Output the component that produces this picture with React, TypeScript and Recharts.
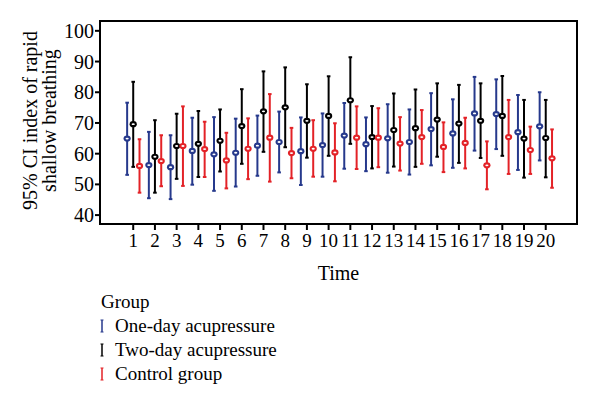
import React from 'react'
import {
  ScatterChart,
  Scatter,
  XAxis,
  YAxis,
  ErrorBar,
  ReferenceArea,
} from 'recharts'

const times = [1, 2, 3, 4, 5, 6, 7, 8, 9, 10, 11, 12, 13, 14, 15, 16, 17, 18, 19, 20]
const yTicks = [40, 50, 60, 70, 80, 90, 100]

// one-day acupressure
const oneDayMean = [64.9, 56.3, 55.6, 60.9, 59.8, 60.3, 62.6, 63.8, 60.8, 62.8, 65.9, 63.1, 65.0, 63.8, 68.0, 66.6, 73.1, 72.9, 67.0, 68.9]
const oneDayLow = [53.1, 45.5, 45.2, 49.9, 47.9, 49.3, 52.8, 53.9, 49.8, 52.5, 55.1, 54.3, 53.8, 53.2, 56.2, 55.4, 61.0, 61.5, 54.7, 57.8]
const oneDayHigh = [76.6, 67.1, 66.0, 71.7, 71.9, 71.4, 72.4, 73.7, 71.8, 73.1, 76.5, 71.8, 76.1, 74.4, 79.7, 77.7, 85.0, 84.2, 79.1, 80.0]

// two-day acupressure
const twoDayMean = [69.6, 59.0, 62.5, 63.2, 64.2, 69.0, 73.8, 75.1, 70.7, 72.3, 77.4, 65.4, 67.7, 68.3, 71.1, 69.8, 70.7, 72.3, 64.9, 65.1]
const twoDayLow = [55.7, 47.3, 51.8, 52.4, 54.2, 56.7, 60.6, 62.1, 58.7, 59.3, 63.2, 55.2, 55.8, 55.7, 59.0, 57.0, 58.6, 59.3, 52.2, 52.3]
const twoDayHigh = [83.4, 70.9, 73.0, 73.9, 74.4, 81.0, 86.8, 88.1, 82.6, 85.2, 91.4, 75.5, 79.6, 80.9, 82.9, 82.4, 82.9, 85.3, 77.5, 77.5]

// control group
const controlMean = [56.0, 57.6, 62.5, 61.5, 57.8, 61.6, 65.2, 60.2, 61.6, 60.4, 65.2, 65.2, 63.3, 65.4, 62.2, 63.5, 56.2, 65.4, 61.2, 58.5]
const controlLow = [47.3, 49.4, 49.5, 52.4, 48.7, 51.7, 50.9, 52.0, 52.5, 51.0, 55.0, 55.6, 54.5, 56.7, 54.0, 55.2, 48.4, 53.4, 53.4, 48.9]
const controlHigh = [64.7, 66.0, 75.4, 70.4, 66.8, 71.5, 79.4, 68.4, 70.9, 69.9, 75.4, 74.8, 71.9, 74.2, 70.2, 71.7, 64.0, 77.5, 68.8, 67.9]

const BLUE = '#26398c'
const BLACK = '#000000'
const RED = '#e32227'
const FONT = '"Liberation Serif", "DejaVu Serif", serif'

const X_DOMAIN = [-0.53, 21.44]
const Y_DOMAIN = [37.1, 103.2]

function build(mean: number[], low: number[], high: number[], shift: number) {
  return times.map((t, i) => ({
    x: t + shift,
    y: mean[i],
    err: [mean[i] - low[i], high[i] - mean[i]],
  }))
}

const groups = [
  { name: 'One-day acupressure', color: BLUE, data: build(oneDayMean, oneDayLow, oneDayHigh, -0.28) },
  { name: 'Two-day acupressure', color: BLACK, data: build(twoDayMean, twoDayLow, twoDayHigh, 0) },
  { name: 'Control group', color: RED, data: build(controlMean, controlLow, controlHigh, 0.29) },
]

function marker(color: string) {
  return (props: any) => {
    const { cx, cy } = props
    if (cx == null || cy == null) return null
    return (
      <g>
        <ellipse cx={cx} cy={cy} rx={3.6} ry={3.1} fill={color} />
        <ellipse cx={cx} cy={cy} rx={1.6} ry={0.9} fill="#fff" />
      </g>
    )
  }
}

function YLabel(props: any) {
  const { viewBox } = props
  const cy = viewBox.y + viewBox.height / 2 - 2
  return (
    <text
      transform={`translate(0, ${cy}) rotate(-90)`}
      textAnchor="middle"
      fontFamily={FONT}
      fontSize={20}
      fill="#000"
    >
      <tspan x={0} y={37}>95% CI index of rapid</tspan>
      <tspan x={0} y={56}>shallow breathing</tspan>
    </text>
  )
}

function GroupLegend() {
  return (
    <div
      style={{
        position: 'absolute',
        left: 99,
        top: 290,
        fontFamily: FONT,
        fontSize: 19,
        color: '#000',
        lineHeight: '24px',
      }}
    >
      <div style={{ marginLeft: 2 }}>Group</div>
      {groups.map((g) => (
        <div key={g.name} style={{ display: 'flex', alignItems: 'center' }}>
          <svg width={15} height={16} style={{ marginRight: 1 }}>
            <line x1={3} y1={2} x2={3} y2={14} stroke={g.color} strokeWidth={1.5} />
            <line x1={1.5} y1={2} x2={4.5} y2={2} stroke={g.color} strokeWidth={1} />
            <line x1={1.5} y1={14} x2={4.5} y2={14} stroke={g.color} strokeWidth={1} />
          </svg>
          <span>{g.name}</span>
        </div>
      ))}
    </div>
  )
}

export default function App() {
  return (
    <div style={{ position: 'absolute', left: 0, top: 0, width: 600, height: 405, background: '#fff' }}>
      <ScatterChart
        width={600}
        height={405}
        margin={{ top: 21, right: 23, left: 0, bottom: 121 }}
      >
        <XAxis
          type="number"
          dataKey="x"
          domain={X_DOMAIN}
          ticks={times}
          interval={0}
          allowDataOverflow
          height={60}
          tickSize={6}
          tickMargin={4}
          stroke="#000"
          strokeWidth={2}
          tick={{ fill: '#000', fontSize: 19, fontFamily: FONT }}
          label={{
            value: 'Time',
            position: 'insideBottom',
            offset: 4,
            fill: '#000',
            fontSize: 20,
            fontFamily: FONT,
          }}
        />
        <YAxis
          type="number"
          dataKey="y"
          domain={Y_DOMAIN}
          ticks={yTicks}
          allowDataOverflow
          width={100}
          tickSize={5}
          tickMargin={1}
          stroke="#000"
          strokeWidth={2}
          tick={{ fill: '#000', fontSize: 20, fontFamily: FONT }}
          label={<YLabel />}
        />
        <ReferenceArea
          x1={X_DOMAIN[0]}
          x2={X_DOMAIN[1]}
          y1={Y_DOMAIN[0]}
          y2={Y_DOMAIN[1]}
          fill="none"
          stroke="#000"
          strokeWidth={2}
          ifOverflow="visible"
        />
        {groups.map((g) => (
          <Scatter
            key={g.name}
            name={g.name}
            data={g.data}
            fill={g.color}
            shape={marker(g.color)}
            isAnimationActive={false}
          >
            <ErrorBar
              dataKey="err"
              direction="y"
              width={1.8}
              stroke={g.color}
              strokeWidth={2}
              isAnimationActive={false}
            />
          </Scatter>
        ))}
      </ScatterChart>
      <GroupLegend />
    </div>
  )
}
